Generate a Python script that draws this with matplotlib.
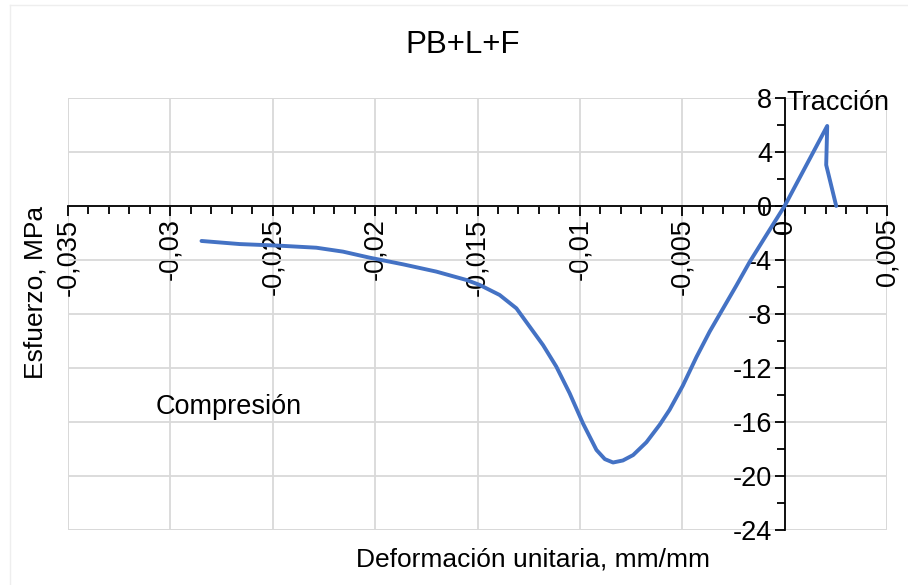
import numpy as np
import matplotlib.pyplot as plt
from matplotlib.ticker import MultipleLocator, FixedLocator, FixedFormatter
from matplotlib.lines import Line2D

plt.rcParams['font.family'] = ['Liberation Sans', 'DejaVu Sans']

# stress-strain curve, PB+L+F specimen
deformacion = [-0.02848, -0.02661, -0.02466, -0.02287, -0.02157, -0.02026, -0.01864,
               -0.01701, -0.01554, -0.01489, -0.01392, -0.0131, -0.01245, -0.0118,
               -0.01115, -0.0105, -0.00985, -0.00919, -0.00878, -0.00838, -0.0079,
               -0.0074, -0.00675, -0.0061, -0.00562, -0.00497, -0.00431,
               -0.00366, -0.00301, -0.00236, -0.00171, -0.00089, 0.0, 0.00208,
               0.00203, 0.00252]
esfuerzo = [-2.59, -2.82, -2.94, -3.09, -3.38, -3.83, -4.32,
            -4.86, -5.48, -5.85, -6.59, -7.58, -8.94, -10.3,
            -11.9, -13.87, -16.1, -18.07, -18.75, -19.0, -18.85,
            -18.45, -17.5, -16.2, -15.1, -13.3, -11.2,
            -9.3, -7.6, -5.9, -4.15, -2.15, 0.0, 5.93,
            3.04, 0.0]

x_ticks = [-0.035, -0.03, -0.025, -0.02, -0.015, -0.01, -0.005, 0, 0.005]
x_labels = ['-0,035', '-0,03', '-0,025', '-0,02', '-0,015', '-0,01', '-0,005', '0', '0,005']
y_ticks = [8, 4, 0, -4, -8, -12, -16, -20, -24]
y_labels = ['8', '4', '0', '-4', '-8', '-12', '-16', '-20', '-24']

fig = plt.figure(figsize=(9.08, 5.85), dpi=100)
ax = fig.add_axes([68 / 908, 1 - 530 / 585, (887 - 68) / 908, (530 - 98) / 585])

ax.plot(deformacion, esfuerzo, color='#4472C4', lw=2.8, solid_capstyle='round',
        solid_joinstyle='round', zorder=3)

ax.set_xlim(-0.035, 0.005)
ax.set_ylim(-24, 8)

# axes cross at the origin, like the spreadsheet chart
ax.spines['bottom'].set_position(('data', 0))
ax.spines['left'].set_position(('data', 0))
ax.spines['top'].set_visible(False)
ax.spines['right'].set_visible(False)
for s in ('bottom', 'left'):
    ax.spines[s].set_linewidth(1.3)
    ax.spines[s].set_zorder(2)

ax.xaxis.set_major_locator(FixedLocator(x_ticks))
ax.xaxis.set_major_formatter(FixedFormatter(x_labels))
ax.xaxis.set_minor_locator(MultipleLocator(0.001))
ax.yaxis.set_major_locator(FixedLocator(y_ticks))
ax.yaxis.set_major_formatter(FixedFormatter(y_labels))
ax.yaxis.set_minor_locator(MultipleLocator(2))

ax.tick_params(axis='x', which='major', direction='out', length=7, width=1.3,
               labelsize=19.5, labelrotation=90, pad=2)
ax.tick_params(axis='x', which='minor', direction='out', length=6, width=1.3)
ax.tick_params(axis='y', which='major', direction='out', length=7, width=1.3,
               labelsize=19.5, pad=2)
ax.tick_params(axis='y', which='minor', direction='out', length=6, width=1.3)
for lbl in ax.get_xticklabels():
    lbl.set_va('top')

ax.grid(True, which='major', color='#d9d9d9', lw=1.3, zorder=0)
ax.set_axisbelow(True)

# plot area border made of the outer gridlines
for xv in (-0.035, 0.005):
    ax.axvline(xv, color='#d9d9d9', lw=1.3, zorder=0)
for yv in (-24, 8):
    ax.axhline(yv, color='#d9d9d9', lw=1.3, zorder=0)

ax.text(0.0001, 7.6, 'Tracción', fontsize=19.5, ha='left', va='center')
ax.text(-0.0307, -14.9, 'Compresión', fontsize=19.5, ha='left', va='center')

fig.text(463 / 908, 1 - 45 / 585, 'PB+L+F', fontsize=22.5, ha='center', va='center')
fig.text(533 / 908, 1 - 560 / 585, 'Deformación unitaria, mm/mm', fontsize=19,
         ha='center', va='center')
fig.text(36 / 908, 1 - 292 / 585, 'Esfuerzo, MPa', fontsize=19, rotation=90,
         ha='center', va='center')

# faint chart frame
fig.add_artist(Line2D([10 / 908, 10 / 908], [0, 1 - 5 / 585], transform=fig.transFigure,
                      color='#eeeeee', lw=1))
fig.add_artist(Line2D([10 / 908, 1], [1 - 5 / 585, 1 - 5 / 585], transform=fig.transFigure,
                      color='#eeeeee', lw=1))

fig.savefig('out.png', dpi=100)
